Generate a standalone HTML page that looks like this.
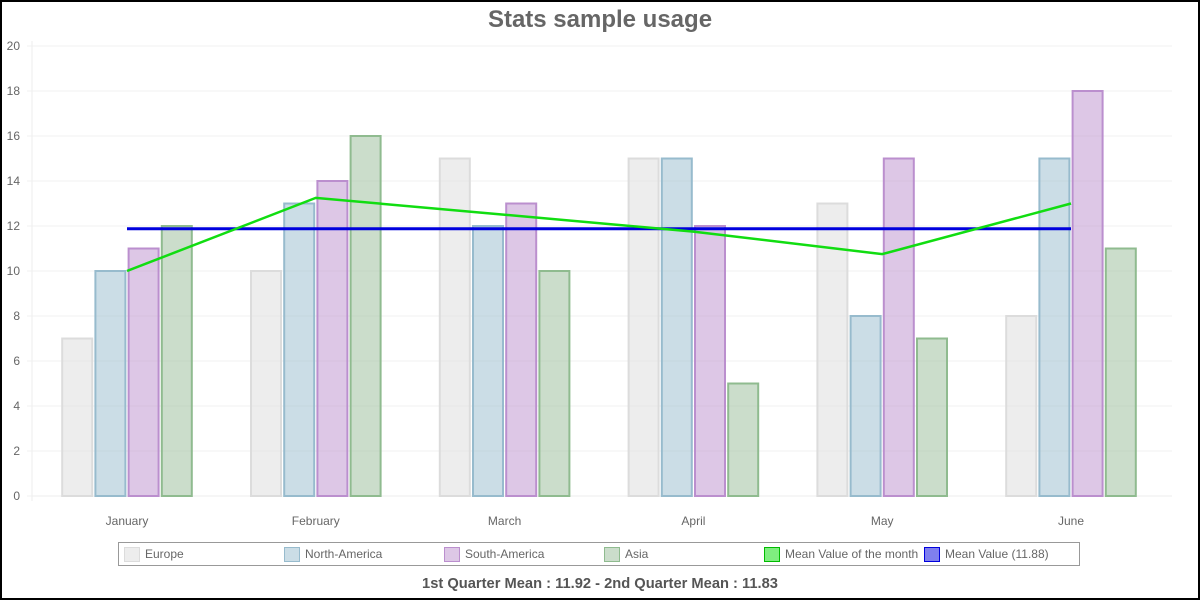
<!DOCTYPE html>
<html><head><meta charset="utf-8"><style>
html,body{margin:0;padding:0;background:#fff;}
#wrap{position:relative;width:1196px;height:596px;border:2px solid #000;overflow:hidden;font-family:"Liberation Sans",sans-serif;}
</style></head><body>
<div id="wrap">
<svg id="chart" width="1196" height="596" xmlns="http://www.w3.org/2000/svg"></svg>
</div>
<script>
const categories=["January","February","March","April","May","June"];
const europe=[7,10,15,15,13,8];
const northAmerica=[10,13,12,15,8,15];
const southAmerica=[11,14,13,12,15,18];
const asia=[12,16,10,5,7,11];
const monthMean=[10,13.25,12.5,11.75,10.75,13];
const overallMean=11.88;
const yTicks=[0,2,4,6,8,10,12,14,16,18,20];
const seriesNames=["Europe","North-America","South-America","Asia","Mean Value of the month","Mean Value (11.88)"];

const NS="http://www.w3.org/2000/svg";
const svg=document.getElementById('chart');
const OX=-2,OY=-2;
const x0=32,x1=1172,y0=496,yTop=46,yMax=20;
const catW=188.8,firstC=127;
function yS(v){return y0-(v/yMax)*(y0-yTop)+OY;}
function xC(i){return firstC+catW*i+OX;}
function el(t,a,p){const e=document.createElementNS(NS,t);for(const k in a)e.setAttribute(k,a[k]);(p||svg).appendChild(e);return e;}

let t=el('text',{x:600+OX,y:27+OY,'text-anchor':'middle','font-size':24,'font-weight':'bold',fill:'#666'});
t.textContent='Stats sample usage';



yTicks.forEach(v=>{
 const g=el('line',{x1:x0-5+OX,x2:x1+OX,y1:yS(v),y2:yS(v),stroke:'#f0f0f0','stroke-width':1});
 
 
 const l=el('text',{x:20+OX,y:yS(v)+4,'text-anchor':'end','font-size':12,fill:'#666'});
 l.textContent=v;
 
 
});
el('line',{x1:x0+OX,x2:x0+OX,y1:yTop-5+OY,y2:y0+5+OY,stroke:'#eee','stroke-width':1});
el('line',{x1:x0+OX,x2:x1+OX,y1:y0+OY,y2:y0+OY,stroke:'#eee','stroke-width':1});

const series=[
 {d:europe,f:'rgba(220,220,220,0.5)',s:'#dcdcdc',n:'europe'},
 {d:northAmerica,f:'rgba(151,187,205,0.5)',s:'#97bbcd',n:'north-america'},
 {d:southAmerica,f:'rgba(187,143,206,0.5)',s:'#bb8fce',n:'south-america'},
 {d:asia,f:'rgba(151,187,151,0.5)',s:'#8fbb8f',n:'asia'}
];
const bw=31,gap=2.2,grpW=4*bw+3*gap;
categories.forEach((c,i)=>{
 const start=xC(i)-grpW/2;
 series.forEach((s,j)=>{
  const v=s.d[i];
  const r=el('rect',{x:start+j*(bw+gap)+0.5,y:yS(v),width:bw-1,height:yS(0)-yS(v),fill:s.f,stroke:s.s,'stroke-width':2});
  
  
 });
 const l=el('text',{x:xC(i),y:525+OY,'text-anchor':'middle','font-size':12,fill:'#666'});
 l.textContent=c;
 
 
});

const mean=el('line',{x1:xC(0),x2:xC(categories.length-1),y1:yS(overallMean),y2:yS(overallMean),stroke:'#0000dd','stroke-width':3});


const pl=el('polyline',{points:monthMean.map((v,i)=>xC(i)+','+yS(v)).join(' '),fill:'none',stroke:'#11dd11','stroke-width':2.5});



const lb=el('rect',{x:118.5+OX,y:542.5+OY,width:961,height:23,fill:'#fff',stroke:'#999','stroke-width':1});


const lf=['rgba(220,220,220,0.5)','rgba(151,187,205,0.5)','rgba(187,143,206,0.5)','rgba(151,187,151,0.5)','rgba(0,221,0,0.5)','rgba(0,0,221,0.5)'];
const ls=['#dcdcdc','#97bbcd','#bb8fce','#8fbb8f','#00bb00','#0000dd'];
seriesNames.forEach((n,i)=>{
 const x=124+i*160+OX;
 const g=el('g',{});
 
 
 el('rect',{x:x+0.5,y:547.5+OY,width:15,height:14,fill:lf[i],stroke:ls[i],'stroke-width':1},g);
 const tx=el('text',{x:x+21,y:558+OY,'font-size':12,fill:'#666'},g);
 tx.textContent=n;
});

const ft=el('text',{x:600+OX,y:588+OY,'text-anchor':'middle','font-size':14.7,'font-weight':'bold',fill:'#555'});
ft.textContent='1st Quarter Mean : 11.92 - 2nd Quarter Mean : 11.83';


</script>
</body></html>
